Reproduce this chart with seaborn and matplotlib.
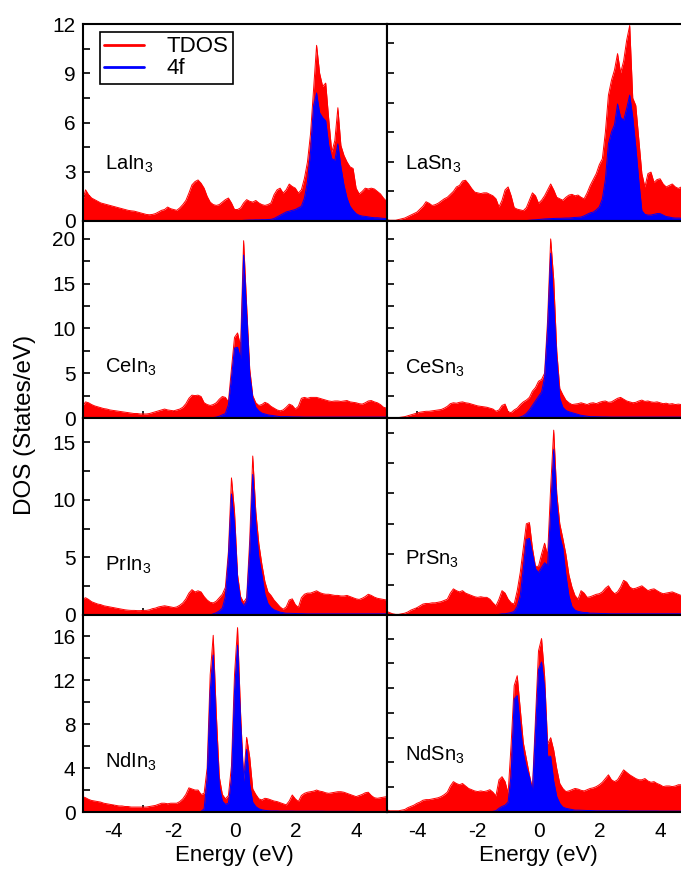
import numpy as np
import pandas as pd
import matplotlib
matplotlib.use("Agg")
import matplotlib.pyplot as plt
import seaborn as sns
from matplotlib.ticker import MultipleLocator
from matplotlib.lines import Line2D

sns.set_theme(style="ticks")
plt.rcParams['font.family'] = ['Liberation Sans', 'DejaVu Sans']
plt.rcParams['mathtext.default'] = 'regular'
plt.rcParams['axes.unicode_minus'] = False
plt.rcParams['axes.edgecolor'] = 'black'
plt.rcParams['text.color'] = 'black'
plt.rcParams['axes.labelcolor'] = 'black'
plt.rcParams['xtick.color'] = 'black'
plt.rcParams['ytick.color'] = 'black'

# ---------------- data (energy grid in eV, DOS in states/eV) ----------------
energy = np.round(np.linspace(-5.0, 5.0, 101), 2)

compounds = ["LaIn$_3$", "LaSn$_3$", "CeIn$_3$", "CeSn$_3$",
             "PrIn$_3$", "PrSn$_3$", "NdIn$_3$", "NdSn$_3$"]
series_names = ["TDOS", "4f"]

tdos_LaIn3 = [1.2, 1.9, 1.6, 1.4, 1.3, 1.2, 1.1, 1.05, 1.0, 0.95,
              0.9, 0.85, 0.8, 0.75, 0.7, 0.65, 0.62, 0.6, 0.55, 0.5,
              0.45, 0.4, 0.38, 0.4, 0.45, 0.55, 0.65, 0.7, 0.85, 0.75,
              0.7, 0.65, 0.8, 1.0, 1.25, 1.7, 2.2, 2.4, 2.5, 2.3,
              2.0, 1.5, 1.15, 1.0, 0.95, 1.0, 1.15, 1.3, 1.4, 1.1,
              0.7, 0.7, 0.8, 1.1, 1.3, 1.2, 1.15, 1.25, 1.1, 1.0,
              0.95, 1.0, 1.1, 1.6, 1.9, 2.0, 1.7, 1.9, 2.25, 2.1,
              2.0, 1.7, 1.9, 2.6, 3.6, 5.3, 8.0, 10.7, 9.0, 8.2,
              8.4, 6.2, 4.2, 4.9, 6.9, 4.6, 4.0, 3.6, 3.3, 3.2,
              2.0, 1.65, 1.8, 2.0, 1.95, 2.0, 1.95, 1.8, 1.65, 1.4,
              1.2]
f4_LaIn3 = [0, 0, 0, 0, 0, 0, 0, 0, 0, 0,
            0, 0, 0, 0, 0, 0, 0, 0, 0, 0,
            0, 0, 0, 0, 0, 0, 0, 0, 0, 0,
            0, 0, 0, 0, 0, 0, 0, 0, 0, 0,
            0, 0, 0, 0, 0, 0, 0, 0, 0, 0,
            0, 0, 0.02, 0.04, 0.05, 0.06, 0.06, 0.07, 0.07, 0.08,
            0.08, 0.09, 0.1, 0.15, 0.25, 0.35, 0.45, 0.55, 0.6, 0.65,
            0.7, 0.8, 0.9, 1.4, 2.4, 4.2, 7.0, 7.8, 6.6, 6.3,
            6.1, 4.6, 3.8, 3.7, 4.7, 3.3, 2.2, 1.4, 0.9, 0.65,
            0.45, 0.35, 0.3, 0.28, 0.25, 0.22, 0.2, 0.2, 0.18, 0.16,
            0.15]

tdos_LaSn3 = [0.1, 0.05, 0.05, 0.05, 0.1, 0.15, 0.2, 0.3, 0.4, 0.5,
              0.6, 0.8, 1.0, 1.3, 1.2, 1.05, 1.1, 1.2, 1.35, 1.5,
              1.6, 1.8, 2.0, 2.3, 2.4, 2.7, 2.75, 2.5, 2.2, 1.95,
              1.9, 1.85, 1.9, 1.9, 1.8, 1.7, 1.5, 0.95, 1.4, 2.1,
              2.3, 1.7, 0.9, 0.8, 0.75, 0.7, 0.9, 1.4, 1.9, 1.7,
              1.2, 1.4, 1.7, 2.1, 2.5, 2.1, 1.6, 1.5, 1.4, 1.6,
              1.75, 1.8, 1.7, 1.75, 1.6, 1.5, 1.9, 2.4, 2.8, 3.2,
              3.8, 4.2, 6.0, 8.5, 9.5, 10.2, 11.3, 10.0, 10.8, 12.2,
              13.2, 8.3, 7.8, 5.5, 3.2, 2.3, 3.2, 3.3, 2.6, 2.8,
              2.85, 2.5, 2.3, 2.4, 2.5, 2.3, 2.2, 2.3, 2.2, 2.1,
              2.0]
f4_LaSn3 = [0, 0, 0, 0, 0, 0, 0, 0, 0, 0,
            0, 0, 0, 0, 0, 0, 0, 0, 0, 0,
            0, 0, 0, 0, 0, 0, 0, 0, 0, 0,
            0, 0, 0, 0, 0, 0, 0, 0, 0, 0,
            0, 0, 0, 0, 0, 0.02, 0.03, 0.05, 0.07, 0.08,
            0.1, 0.12, 0.14, 0.15, 0.16, 0.17, 0.18, 0.18, 0.19, 0.2,
            0.2, 0.22, 0.24, 0.25, 0.27, 0.35, 0.45, 0.55, 0.6, 0.75,
            0.95, 1.5, 2.8, 5.2, 6.0, 6.5, 7.9, 7.0, 6.8, 7.6,
            8.5, 7.0, 5.0, 2.7, 0.7, 0.45, 0.4, 0.4, 0.45, 0.5,
            0.5, 0.4, 0.3, 0.27, 0.22, 0.2, 0.2, 0.19, 0.18, 0.18,
            0.18]

tdos_CeIn3 = [1.3, 1.8, 1.7, 1.5, 1.35, 1.25, 1.15, 1.05, 1.0, 0.9,
              0.85, 0.8, 0.75, 0.7, 0.65, 0.6, 0.55, 0.5, 0.5, 0.45,
              0.45, 0.45, 0.5, 0.6, 0.7, 0.8, 0.9, 1.0, 0.9, 0.85,
              0.8, 0.9, 1.0, 1.2, 1.6, 2.2, 2.55, 2.5, 2.55, 2.4,
              1.7, 1.5, 1.4, 1.5, 1.7, 2.1, 2.4, 2.3, 1.8, 5.5,
              9.0, 9.5, 8.0, 19.8, 12.5, 5.5, 2.5, 1.7, 1.4, 1.5,
              1.75, 1.6, 1.3, 1.1, 0.9, 0.8, 0.9, 1.2, 1.55, 1.4,
              1.0, 1.3, 2.2, 2.3, 2.2, 2.3, 2.3, 2.3, 2.2, 2.1,
              2.0, 1.9, 1.85, 1.9, 1.9, 1.85, 1.9, 1.95, 1.8, 1.75,
              1.7, 1.6, 1.55, 1.7, 1.9, 1.95, 1.8, 1.7, 1.5, 1.2,
              1.1]
f4_CeIn3 = [0, 0, 0, 0, 0, 0, 0, 0, 0, 0,
            0, 0, 0, 0, 0, 0, 0, 0, 0, 0,
            0, 0, 0, 0, 0, 0, 0, 0, 0, 0,
            0, 0, 0, 0, 0, 0, 0, 0, 0, 0,
            0, 0, 0, 0.05, 0.1, 0.2, 0.35, 0.5, 1.5, 4.5,
            7.8, 7.9, 6.6, 18.2, 11.4, 4.8, 2.2, 1.2, 0.8, 0.55,
            0.45, 0.35, 0.3, 0.25, 0.2, 0.15, 0.15, 0.15, 0.14, 0.13,
            0.12, 0.12, 0.11, 0.1, 0.1, 0.1, 0.1, 0.1, 0.1, 0.1,
            0.1, 0.1, 0.1, 0.1, 0.1, 0.1, 0.1, 0.1, 0.1, 0.1,
            0.1, 0.1, 0.1, 0.1, 0.1, 0.1, 0.1, 0.1, 0.1, 0.1,
            0.1]

tdos_CeSn3 = [0.1, 0.05, 0.05, 0.05, 0.05, 0.1, 0.15, 0.25, 0.35, 0.45,
              0.55, 0.65, 0.7, 0.75, 0.75, 0.8, 0.85, 0.9, 0.95, 1.1,
              1.3, 1.6, 1.7, 1.65, 1.75, 1.8, 1.7, 1.65, 1.55, 1.45,
              1.35, 1.3, 1.25, 1.2, 1.1, 1.0, 0.75, 0.9, 1.4, 1.55,
              0.7, 0.6, 0.9, 1.1, 1.5, 1.8, 2.0, 2.3, 3.0, 3.4,
              4.1, 4.3, 5.0, 11.0, 20.0, 15.5, 7.5, 3.3, 2.6, 2.0,
              1.7, 1.5, 1.55, 1.6, 1.7, 1.6, 1.5, 1.65, 1.7, 1.6,
              1.75, 1.85, 1.9, 1.75, 1.8, 2.0, 2.2, 2.3, 2.1, 1.9,
              1.8, 1.7, 1.75, 1.9, 2.0, 1.85, 1.9, 1.8, 1.75, 1.8,
              1.7, 1.6, 1.65, 1.55, 1.6, 1.5, 1.55, 1.5, 1.5, 1.5,
              1.5]
f4_CeSn3 = [0, 0, 0, 0, 0, 0, 0, 0, 0, 0,
            0, 0, 0, 0, 0, 0, 0, 0, 0, 0,
            0, 0, 0, 0, 0, 0, 0, 0, 0, 0,
            0, 0, 0, 0, 0, 0, 0, 0, 0, 0,
            0, 0, 0, 0.05, 0.1, 0.25, 0.5, 0.9, 1.4, 1.9,
            2.4, 2.9, 4.5, 10.0, 18.4, 12.5, 6.4, 2.2, 1.2, 0.85,
            0.7, 0.6, 0.5, 0.4, 0.3, 0.25, 0.2, 0.15, 0.15, 0.14,
            0.13, 0.12, 0.12, 0.11, 0.1, 0.1, 0.1, 0.1, 0.1, 0.1,
            0.1, 0.1, 0.1, 0.1, 0.1, 0.1, 0.1, 0.1, 0.1, 0.1,
            0.1, 0.1, 0.1, 0.1, 0.1, 0.1, 0.1, 0.1, 0.1, 0.1,
            0.1]

tdos_PrIn3 = [1.35, 1.5, 1.35, 1.15, 1.05, 0.95, 0.9, 0.8, 0.75, 0.7,
              0.65, 0.6, 0.55, 0.5, 0.45, 0.42, 0.4, 0.4, 0.38, 0.38,
              0.4, 0.4, 0.45, 0.55, 0.6, 0.7, 0.75, 0.8, 0.75, 0.7,
              0.65, 0.7, 0.85, 1.05, 1.4, 1.9, 2.2, 2.0, 2.1, 2.0,
              1.6, 1.3, 1.1, 1.05, 1.2, 1.5, 1.8, 2.4, 5.5, 11.9,
              9.0, 3.5, 1.6, 1.1, 1.5, 6.5, 13.8, 9.0, 6.2, 4.4,
              2.9, 2.0, 1.7, 1.3, 1.0, 0.7, 0.5, 0.7, 1.3, 1.4,
              0.9, 0.65, 1.5, 1.8, 1.9, 1.9, 2.0, 2.1, 1.95, 1.85,
              1.8, 1.8, 1.75, 1.7, 1.7, 1.65, 1.65, 1.7, 1.6, 1.5,
              1.4, 1.35, 1.45, 1.6, 1.8, 1.7, 1.55, 1.45, 1.4, 1.35,
              1.3]
f4_PrIn3 = [0, 0, 0, 0, 0, 0, 0, 0, 0, 0,
            0, 0, 0, 0, 0, 0, 0, 0, 0, 0,
            0, 0, 0, 0, 0, 0, 0, 0, 0, 0,
            0, 0, 0, 0, 0, 0, 0, 0, 0, 0,
            0, 0, 0, 0.1, 0.2, 0.35, 0.6, 1.6, 5.0, 10.5,
            7.8, 3.0, 1.2, 0.8, 1.2, 5.5, 12.2, 7.8, 5.0, 3.5,
            1.8, 1.0, 0.65, 0.45, 0.35, 0.25, 0.2, 0.15, 0.15, 0.14,
            0.13, 0.12, 0.12, 0.11, 0.1, 0.1, 0.1, 0.1, 0.1, 0.1,
            0.1, 0.1, 0.1, 0.1, 0.1, 0.1, 0.1, 0.1, 0.1, 0.1,
            0.1, 0.1, 0.1, 0.1, 0.1, 0.1, 0.1, 0.1, 0.1, 0.1,
            0.1]

tdos_PrSn3 = [0.3, 0.2, 0.1, 0.05, 0.05, 0.1, 0.15, 0.25, 0.4, 0.5,
              0.6, 0.75, 0.9, 0.95, 0.95, 1.0, 1.0, 1.05, 1.1, 1.2,
              1.3, 1.8, 2.15, 2.0, 1.9, 2.0, 1.8, 1.7, 1.6, 1.5,
              1.45, 1.5, 1.45, 1.45, 1.3, 1.0, 0.75, 1.3, 2.0, 1.8,
              1.3, 1.0, 0.9, 2.0, 3.5, 5.5, 7.5, 7.6, 5.5, 4.0,
              4.0, 5.0, 5.9, 4.9, 10.5, 15.2, 10.0, 7.5, 6.3, 5.0,
              3.3, 2.3, 1.6, 1.3, 2.0, 1.8, 1.45, 1.5, 1.6, 1.7,
              1.75, 1.9, 2.2, 2.4, 2.0, 1.75, 1.9, 2.3, 2.85, 2.7,
              2.3, 2.15, 2.2, 2.3, 2.4, 2.2, 2.0, 2.1, 2.15, 2.0,
              1.85, 1.75, 1.8, 1.85, 1.9, 1.8, 1.7, 1.6, 1.6, 1.6,
              1.6]
f4_PrSn3 = [0, 0, 0, 0, 0, 0, 0, 0, 0, 0,
            0, 0, 0, 0, 0, 0, 0, 0, 0, 0,
            0, 0, 0, 0, 0, 0, 0, 0, 0, 0,
            0, 0, 0, 0, 0, 0, 0, 0.05, 0.1, 0.1,
            0.15, 0.2, 0.3, 0.7, 1.6, 3.8, 6.2, 6.3, 5.0, 3.8,
            3.5, 3.9, 4.3, 4.1, 8.5, 13.6, 9.1, 6.5, 5.5, 3.3,
            1.6, 0.7, 0.4, 0.3, 0.25, 0.2, 0.2, 0.15, 0.15, 0.14,
            0.13, 0.12, 0.12, 0.11, 0.1, 0.1, 0.1, 0.1, 0.1, 0.1,
            0.1, 0.1, 0.1, 0.1, 0.1, 0.1, 0.1, 0.1, 0.1, 0.1,
            0.1, 0.1, 0.1, 0.1, 0.1, 0.1, 0.1, 0.1, 0.1, 0.1,
            0.1]

tdos_NdIn3 = [1.4, 1.3, 1.15, 1.05, 1.0, 0.95, 0.9, 0.8, 0.75, 0.7,
              0.65, 0.6, 0.55, 0.55, 0.5, 0.5, 0.45, 0.45, 0.45, 0.45,
              0.45, 0.45, 0.5, 0.55, 0.6, 0.7, 0.8, 0.8, 0.75, 0.8,
              0.8, 0.8, 0.95, 1.2, 1.6, 2.2, 2.1, 2.0, 2.0, 1.6,
              1.7, 4.0, 12.5, 16.1, 9.0, 3.2, 1.6, 1.2, 1.5, 4.2,
              12.5, 16.8, 9.0, 3.0, 6.8, 5.0, 2.1, 1.6, 1.2, 1.1,
              1.25, 1.2, 1.1, 1.0, 0.95, 0.85, 0.75, 0.65, 1.0, 1.55,
              1.2, 0.95, 1.5, 1.7, 1.8, 1.85, 1.9, 2.0, 1.9, 1.85,
              1.75, 1.7, 1.75, 1.8, 1.85, 1.85, 1.8, 1.7, 1.6, 1.5,
              1.4, 1.5, 1.6, 1.75, 1.8, 1.5, 1.3, 1.25, 1.3, 1.35,
              1.4]
f4_NdIn3 = [0, 0, 0, 0, 0, 0, 0, 0, 0, 0,
            0, 0, 0, 0, 0, 0, 0, 0, 0, 0,
            0, 0, 0, 0, 0, 0, 0, 0, 0, 0,
            0, 0, 0, 0, 0, 0, 0, 0, 0, 0.05,
            0.3, 3.0, 11.0, 14.3, 7.0, 2.3, 1.0, 0.7, 0.8, 3.0,
            11.0, 15.2, 8.0, 2.8, 5.7, 2.5, 0.9, 0.5, 0.3, 0.2,
            0.15, 0.12, 0.1, 0.1, 0.1, 0.08, 0.08, 0.08, 0.08, 0.08,
            0.07, 0.07, 0.07, 0.07, 0.07, 0.07, 0.07, 0.07, 0.07, 0.07,
            0.06, 0.06, 0.06, 0.06, 0.06, 0.06, 0.06, 0.06, 0.06, 0.06,
            0.05, 0.05, 0.05, 0.05, 0.05, 0.05, 0.05, 0.05, 0.05, 0.05,
            0.05]

tdos_NdSn3 = [0.2, 0.1, 0.1, 0.1, 0.1, 0.15, 0.2, 0.35, 0.45, 0.55,
              0.7, 0.8, 0.95, 1.0, 1.0, 1.05, 1.1, 1.15, 1.25, 1.4,
              1.6, 2.1, 2.45, 2.3, 2.2, 2.3, 2.1, 1.9, 1.8, 1.7,
              1.65, 1.7, 1.65, 1.7, 1.8, 1.6, 1.3, 2.6, 2.85, 2.45,
              1.5, 5.5, 10.2, 11.0, 8.3, 5.6, 4.3, 3.0, 1.9, 7.5,
              13.0, 14.0, 11.0, 5.5, 6.0, 5.0, 3.5, 2.3, 1.9, 1.65,
              1.7, 1.8, 1.9, 1.85, 1.75, 1.7, 1.8, 1.9, 1.95, 2.05,
              2.2, 2.4, 2.7, 3.0, 2.6, 2.45, 2.6, 3.0, 3.4, 3.2,
              3.0, 2.85, 2.7, 2.6, 2.6, 2.7, 2.5, 2.4, 2.45, 2.3,
              2.2, 2.05, 2.1, 2.1, 2.05, 2.1, 2.2, 2.2, 2.1, 2.1,
              2.1]
f4_NdSn3 = [0, 0, 0, 0, 0, 0, 0, 0, 0, 0,
            0, 0, 0, 0, 0, 0, 0, 0, 0, 0,
            0, 0, 0, 0, 0, 0, 0, 0, 0, 0,
            0, 0, 0, 0, 0, 0.05, 0.1, 0.3, 0.45, 0.55,
            0.8, 3.0, 9.1, 9.4, 6.9, 4.75, 3.6, 2.8, 1.65, 6.5,
            11.5, 12.1, 10.0, 4.5, 4.5, 2.5, 1.25, 0.7, 0.4, 0.3,
            0.25, 0.2, 0.15, 0.15, 0.14, 0.13, 0.12, 0.12, 0.11, 0.1,
            0.1, 0.1, 0.1, 0.1, 0.1, 0.1, 0.1, 0.1, 0.1, 0.1,
            0.08, 0.08, 0.08, 0.08, 0.08, 0.08, 0.08, 0.08, 0.08, 0.08,
            0.07, 0.07, 0.07, 0.07, 0.07, 0.07, 0.07, 0.07, 0.07, 0.07,
            0.07]

tdos_all = [tdos_LaIn3, tdos_LaSn3, tdos_CeIn3, tdos_CeSn3,
            tdos_PrIn3, tdos_PrSn3, tdos_NdIn3, tdos_NdSn3]
f4_all = [f4_LaIn3, f4_LaSn3, f4_CeIn3, f4_CeSn3,
          f4_PrIn3, f4_PrSn3, f4_NdIn3, f4_NdSn3]
for a in tdos_all + f4_all:
    assert len(a) == len(energy), len(a)

# ---------------- layout / style ----------------
W, H = 681, 869
fig = plt.figure(figsize=(W / 100, H / 100), dpi=100)
col_x = [82.5, 386.5]
ax_w = 304
row_top = [24, 221, 418, 615]
ax_h = 197

ylims_left = [12.0, 22.0, 17.1, 17.95]
ylims_right = [13.3, 22.0, 16.2, 15.9]
ymajor_left = [3, 5, 5, 4]
yminor_left = [1.5, 2.5, 2.5, 2]
ytick_right = [2, 2.5, 2.5, 2]
label_y = [[0.29, 0.29], [0.255, 0.25], [0.25, 0.285], [0.255, 0.29]]

red = '#ff0000'
blue = '#0000ff'

axes = []
for i, name in enumerate(compounds):
    r, c = divmod(i, 2)
    ax = fig.add_axes([col_x[c] / W, 1 - (row_top[r] + ax_h) / H, ax_w / W, ax_h / H])
    df = pd.DataFrame({"Energy": energy, series_names[0]: tdos_all[i], series_names[1]: f4_all[i]})
    ax.fill_between(df["Energy"], df["TDOS"], color=red, lw=0, zorder=1)
    sns.lineplot(data=df, x="Energy", y="TDOS", color=red, lw=0.7, ax=ax, zorder=1.5)
    ax.fill_between(df["Energy"], df["4f"], color=blue, lw=0, zorder=2)
    sns.lineplot(data=df, x="Energy", y="4f", color=blue, lw=0.7, ax=ax, zorder=2.5)

    ax.set_xlim(-5, 5)
    ax.set_ylim(0, ylims_left[r] if c == 0 else ylims_right[r])
    ax.xaxis.set_major_locator(MultipleLocator(2))
    ax.xaxis.set_minor_locator(MultipleLocator(1))
    if c == 0:
        ax.yaxis.set_major_locator(MultipleLocator(ymajor_left[r]))
        ax.yaxis.set_minor_locator(MultipleLocator(yminor_left[r]))
    else:
        ax.yaxis.set_major_locator(MultipleLocator(ytick_right[r]))
    ax.tick_params(which='both', direction='in', top=False, right=False,
                   length=5, width=1.2, labelsize=15)
    ax.tick_params(axis='x', which='both', pad=7, labelbottom=(r == 3))
    ax.tick_params(axis='y', which='both', pad=5, labelleft=(c == 0))
    for s in ax.spines.values():
        s.set_linewidth(1.5)
        s.set_color('black')
    ax.set_ylabel('')
    if r == 3:
        ax.set_xlabel('Energy (eV)', fontsize=16, labelpad=3)
    else:
        ax.set_xlabel('')
    ax.text(0.075 if c == 0 else 0.06, label_y[r][c], name, transform=ax.transAxes,
            fontsize=14.5, va='center', ha='left')
    axes.append(ax)

handles = [Line2D([], [], color=red, lw=2), Line2D([], [], color=blue, lw=2)]
leg = axes[0].legend(handles, series_names, loc='upper left', bbox_to_anchor=(0.056, 0.96),
                     borderaxespad=0, frameon=True, fancybox=False, edgecolor='black',
                     framealpha=1, fontsize=16, handlelength=1.8, borderpad=0.2,
                     labelspacing=0.05, handletextpad=1.0)
leg.get_frame().set_linewidth(1.2)

fig.text(25 / W, 1 - 425 / H, 'DOS (States/eV)', rotation=90, va='center', ha='center', fontsize=17.5)

fig.savefig('out.png', dpi=100)
